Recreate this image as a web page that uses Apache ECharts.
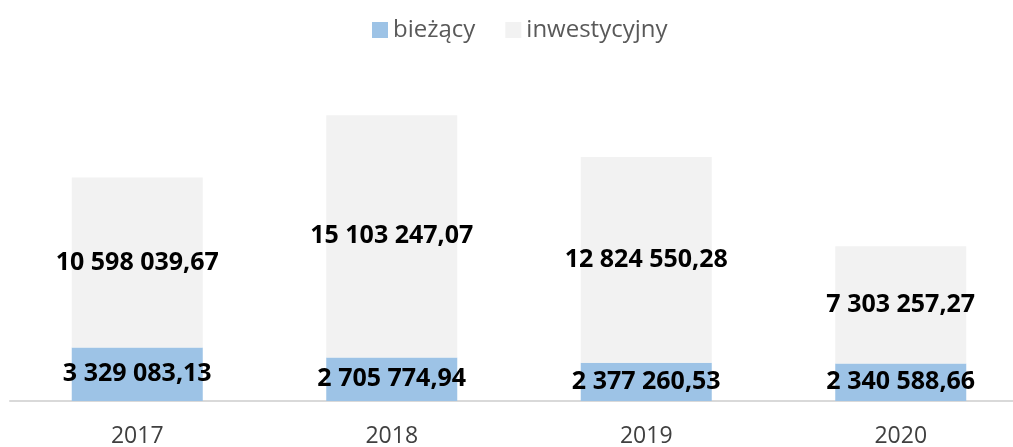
<!DOCTYPE html>
<html>
<head>
<meta charset="utf-8">
<script src="https://cdn.jsdelivr.net/npm/echarts@6/dist/echarts.min.js"></script>
<style>
  html, body { margin: 0; padding: 0; background: #fff; }
  #chart { width: 1013px; height: 447px; }
</style>
</head>
<body>
<div id="chart"></div>
<script>
// dane z wykresu
const years = ['2017', '2018', '2019', '2020'];
const biezacy = [3329083.13, 2705774.94, 2377260.53, 2340588.66];
const inwestycyjny = [10598039.67, 15103247.07, 12824550.28, 7303257.27];

function fmt(v) {
  const parts = v.toFixed(2).split('.');
  const intPart = parts[0].replace(/\B(?=(\d{3})+(?!\d))/g, ' ');
  return intPart + ',' + parts[1];
}

const labelStyle = {
  show: true,
  position: 'inside',
  color: '#000',
  fontFamily: 'Open Sans',
  fontWeight: 'bold',
  fontSize: 25,
  formatter: p => fmt(p.value)
};

const chart = echarts.init(document.getElementById('chart'));
chart.setOption({
  animation: false,
  textStyle: { fontFamily: 'Open Sans' },
  legend: {
    left: 367,
    top: 13,
    itemWidth: 16,
    itemHeight: 16,
    itemGap: 30,
    icon: 'rect',
    textStyle: { color: '#595959', fontSize: 24, fontFamily: 'Open Sans' },
    data: ['bieżący', 'inwestycyjny']
  },
  grid: {
    left: 10,
    width: 1018,
    top: 80,
    bottom: 46,
    outerBoundsMode: 'none',
    containLabel: false
  },
  xAxis: {
    type: 'category',
    data: years,
    axisTick: { show: false },
    axisLine: { lineStyle: { color: '#d9d9d9', width: 2 } },
    axisLabel: { color: '#404040', fontSize: 23, margin: 24 }
  },
  yAxis: {
    type: 'value',
    min: 0,
    max: 20000000,
    show: false,
    splitLine: { show: false }
  },
  series: [
    {
      name: 'bieżący',
      type: 'bar',
      stack: 'total',
      barWidth: 131,
      itemStyle: { color: '#9dc3e6' },
      label: labelStyle,
      data: biezacy
    },
    {
      name: 'inwestycyjny',
      type: 'bar',
      stack: 'total',
      barWidth: 131,
      itemStyle: { color: '#f2f2f2' },
      label: labelStyle,
      data: inwestycyjny
    }
  ]
});
</script>
</body>
</html>
